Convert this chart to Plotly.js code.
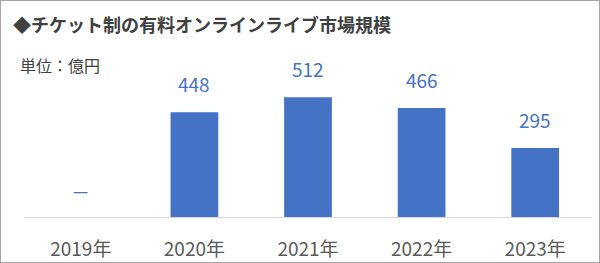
<!DOCTYPE html>
<html>
<head>
<meta charset="utf-8">
<script src="https://cdn.plot.ly/plotly-3.0.1.min.js"></script>
<style>
html,body{margin:0;padding:0;background:#fff;}
#wrap{width:598px;height:261px;border:1px solid #a6a6a6;}
#chart{width:598px;height:261px;}
</style>
</head>
<body>
<div id="wrap"><div id="chart"></div></div>
<script>
const categories = ['2019年', '2020年', '2021年', '2022年', '2023年'];
const values = [null, 448, 512, 466, 295];
const noDataLabel = '－';
const titleText = '◆チケット制の有料オンラインライブ市場規模';
const unitText = '単位：億円';

const FONT = '"Noto Sans CJK JP", "Noto Sans", sans-serif';
const BLUE = '#4472C4';

const trace = {
  type: 'bar',
  x: categories,
  y: values.map(v => v === null ? 0 : v),
  marker: {color: BLUE},
  hoverinfo: 'skip'
};

const labelAnnotations = categories.map((c, i) => ({
  x: c, y: values[i] === null ? 0 : values[i],
  xref: 'x', yref: 'y',
  text: values[i] === null ? noDataLabel : String(values[i]),
  showarrow: false,
  yanchor: 'bottom',
  yshift: values[i] === null ? 10 : 13,
  font: {family: FONT, size: 19, color: BLUE}
}));

const layout = {
  width: 598, height: 261,
  margin: {l: 23, r: 7, t: 60, b: 45},
  paper_bgcolor: '#ffffff',
  plot_bgcolor: '#ffffff',
  bargap: 0.58,
  showlegend: false,
  title: {
    text: '<b>' + titleText + '</b>',
    xref: 'container', yref: 'container',
    x: 12/598, y: 1 - 25/261,
    xanchor: 'left', yanchor: 'middle',
    font: {family: FONT, size: 18, color: '#404040'}
  },
  xaxis: {
    type: 'category',
    showgrid: false,
    zeroline: false,
    showline: true,
    linecolor: '#d9d9d9',
    linewidth: 1,
    ticks: '',
    ticklabelstandoff: 15,
    tickfont: {family: FONT, size: 19, color: '#595959'},
    fixedrange: true
  },
  yaxis: {
    range: [0, 667],
    visible: false,
    showgrid: false,
    zeroline: false,
    fixedrange: true
  },
  annotations: labelAnnotations.concat([{
    xref: 'paper', yref: 'paper',
    x: -6/568, y: 1 - 4/156,
    xanchor: 'left', yanchor: 'middle',
    text: unitText,
    showarrow: false,
    font: {family: FONT, size: 16, color: '#404040'}
  }])
};

Plotly.newPlot('chart', [trace], layout, {displayModeBar: false, staticPlot: true});
</script>
</body>
</html>
